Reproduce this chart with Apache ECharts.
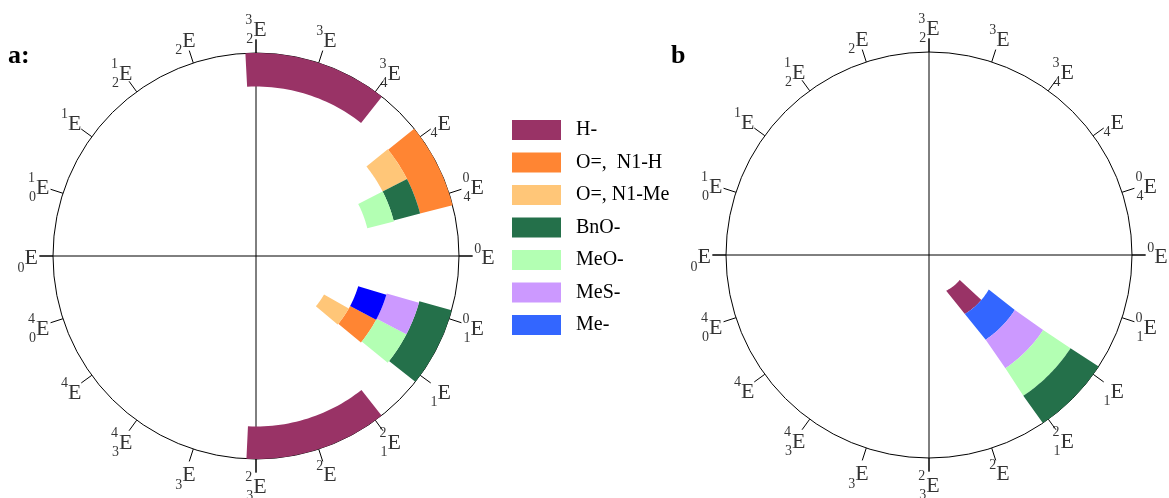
<!DOCTYPE html>
<html>
<head>
<meta charset="utf-8">
<script src="https://cdn.jsdelivr.net/npm/echarts@6/dist/echarts.min.js"></script>
<style>html,body{margin:0;padding:0;background:#fff;}#c{width:1169px;height:498px;}</style>
</head>
<body>
<div id="c"></div>
<script>
// ---- data ----
// tick angles (pseudorotation phase angle P, degrees, clockwise from top)
const tickAngles = [0,18,36,54,72,90,108,126,144,162,180,198,216,234,252,270,288,306,324,342];
const tickSup = ['3','3','3','','0','0','0','','2','2','2','','4','4','4','','1','1','1',''];
const tickSub = ['2','','4','4','4','','1','1','1','','3','3','3','','0','0','0','','2','2'];

const seriesNames = ['H-', 'O=,  N1-H', 'O=, N1-Me', 'BnO-', 'MeO-', 'MeS-', 'Me-'];
const seriesColors = ['#993366', '#ff8533', '#ffc678', '#24704a', '#b3ffb3', '#cc99ff', '#3366ff'];
const panelAMeColor = '#0000ff';

// segments: [rInner, rOuter, P start (inner), P end (inner), P start (outer), P end (outer)]
// panel a
const aH    = [[83.5, 100, -3, 38.3, -3, 38.3], [84, 100, 141.8, 182.7, 141.8, 182.7]];
const aOH   = [[83.5, 100, 51.2, 75.5, 51.2, 75.5], [52.5, 67, 118, 129.5, 118, 129.5]];
const aOMe  = [[70, 83.5, 51, 63, 51, 63], [38.5, 52.5, 119.5, 130, 119.5, 130]];
const aBnO  = [[70, 83.5, 63, 75.5, 63, 75.5], [83.5, 100, 105.5, 128.3, 105.5, 128.3]];
const aMeO  = [[56.5, 70, 63, 76, 63, 76], [67, 83.5, 117.5, 129, 117.5, 129]];
const aMeS  = [[67, 83.5, 106, 117.5, 106, 117.5]];
const aMe   = [[52.5, 67, 106.5, 118, 106.5, 118]];
// panel b
const bH    = [[19.5, 34, 129, 154.3, 130.6, 148.7]];
const bMe   = [[34, 50.2, 120, 148.7, 122.6, 146.2]];
const bMeS  = [[50.2, 67.3, 122.6, 146.2, 123.3, 146]];
const bMeO  = [[67.3, 83.5, 123.3, 146, 123.4, 146.2]];
const bBnO  = [[83.5, 100, 123.4, 146.2, 123.3, 145.9]];

const serif = 'Liberation Serif';

function renderSeg(params, api) {
  const rIn = api.value(0), rOut = api.value(1);
  const a0i = api.value(2), a1i = api.value(3), a0o = api.value(4), a1o = api.value(5);
  const N = 30, pts = [];
  for (let k = 0; k <= N; k++) pts.push(api.coord([rOut, a0o + (a1o - a0o) * k / N]));
  for (let k = N; k >= 0; k--) pts.push(api.coord([rIn, a0i + (a1i - a0i) * k / N]));
  return { type: 'polygon', shape: { points: pts }, style: { fill: api.visual('color') } };
}

function seg(name, color, polarIndex, data) {
  return { type: 'custom', name: name, coordinateSystem: 'polar', polarIndex: polarIndex,
           data: data, renderItem: renderSeg, itemStyle: { color: color }, z: 3, silent: true, clip: false };
}

function labelFmt(p) {
  const i = p.dataIndex, s = tickSup[i], b = tickSub[i];
  if (s && b) return '{p|' + s + '}{b|' + b + '}{e|E}';
  if (s) return '{a|' + s + '}{e|E}';
  return '{b|' + b + '}{e|E}';
}
const labelRich = {
  e: { fontSize: 22, fontFamily: serif, color: '#000', lineHeight: 33, verticalAlign: 'middle' },
  p: { fontSize: 14, fontFamily: serif, color: '#000', lineHeight: 14, verticalAlign: 'top', width: 1, align: 'left' },
  a: { fontSize: 14, fontFamily: serif, color: '#000', lineHeight: 14, verticalAlign: 'top' },
  b: { fontSize: 14, fontFamily: serif, color: '#000', lineHeight: 22, verticalAlign: 'bottom' }
};
function tickLabels(polarIndex) {
  return { type: 'scatter', coordinateSystem: 'polar', polarIndex: polarIndex, silent: true, clip: false,
           symbolSize: 1, itemStyle: { color: 'rgba(0,0,0,0)' },
           data: tickAngles.map(a => [112.5, a]),
           label: { show: true, position: 'inside', offset: [0, 2.5], formatter: labelFmt, rich: labelRich } };
}

function mainAngle(pi) {
  return { polarIndex: pi, type: 'value', min: 0, max: 360, interval: 18, startAngle: 90, clockwise: true,
           axisLine: { show: true, lineStyle: { color: '#000', width: 1 } },
           axisTick: { show: true, length: 13, lineStyle: { color: '#000', width: 1 } },
           axisLabel: { show: false }, splitLine: { show: false } };
}
function crossAngle(pi) {
  return { polarIndex: pi, type: 'value', min: 0, max: 360, interval: 90, startAngle: 90, clockwise: true,
           axisLine: { show: false }, axisTick: { show: false }, axisLabel: { show: false },
           splitLine: { show: true, lineStyle: { color: '#000', width: 1 } } };
}
function radius(pi) {
  return { polarIndex: pi, type: 'value', min: 0, max: 100, show: false,
           axisLine: { show: false }, axisTick: { show: false }, axisLabel: { show: false }, splitLine: { show: false } };
}

const series = [
  seg(seriesNames[0], seriesColors[0], 0, aH),
  seg(seriesNames[1], seriesColors[1], 0, aOH),
  seg(seriesNames[2], seriesColors[2], 0, aOMe),
  seg(seriesNames[3], seriesColors[3], 0, aBnO),
  seg(seriesNames[4], seriesColors[4], 0, aMeO),
  seg(seriesNames[5], seriesColors[5], 0, aMeS),
  seg(seriesNames[6], panelAMeColor, 0, aMe),
  seg(seriesNames[0], seriesColors[0], 2, bH),
  seg(seriesNames[6], seriesColors[6], 2, bMe),
  seg(seriesNames[5], seriesColors[5], 2, bMeS),
  seg(seriesNames[4], seriesColors[4], 2, bMeO),
  seg(seriesNames[3], seriesColors[3], 2, bBnO),
  tickLabels(0),
  tickLabels(2)
];

const chart = echarts.init(document.getElementById('c'), null, { renderer: 'canvas' });
chart.setOption({
  animation: false,
  backgroundColor: '#fff',
  title: [
    { text: '{b|a}{n|:}', left: 8, top: 43, padding: 0,
      textStyle: { rich: { b: { fontFamily: serif, fontWeight: 'bold', fontSize: 26, color: '#000' },
                           n: { fontFamily: serif, fontSize: 26, color: '#000' } } } },
    { text: 'b', left: 671, top: 43, padding: 0,
      textStyle: { fontFamily: serif, fontWeight: 'bold', fontSize: 26, color: '#000' } }
  ],
  legend: {
    orient: 'vertical', left: 512, top: 120, padding: 0, itemWidth: 49, itemHeight: 20, itemGap: 12.5,
    icon: 'rect', selectedMode: false,
    textStyle: { fontFamily: serif, fontSize: 20, color: '#000', padding: [0, 0, 0, 10], lineHeight: 20 },
    data: seriesNames.map((n, i) => ({ name: n, itemStyle: { color: seriesColors[i] } }))
  },
  polar: [
    { center: [256, 256], radius: 203 },
    { center: [256, 256], radius: 217 },
    { center: [929, 255], radius: 203 },
    { center: [929, 255], radius: 217 }
  ],
  angleAxis: [mainAngle(0), crossAngle(1), mainAngle(2), crossAngle(3)],
  radiusAxis: [radius(0), radius(1), radius(2), radius(3)],
  series: series
});
</script>
</body>
</html>
